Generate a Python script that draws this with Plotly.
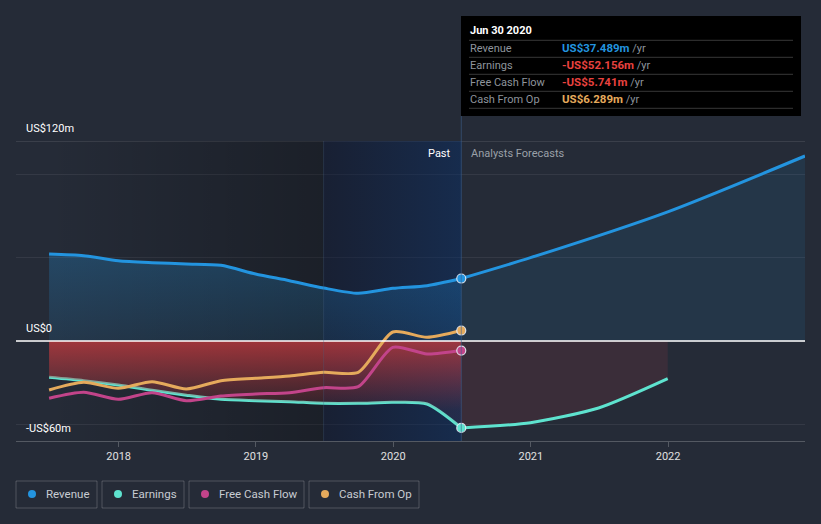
import plotly.graph_objects as go

# ---------------- data ----------------
past_dates = ["2017-06-30", "2017-09-30", "2017-12-31", "2018-03-31", "2018-06-30",
              "2018-09-30", "2018-12-31", "2019-03-31", "2019-06-30", "2019-09-30",
              "2019-12-31", "2020-03-31", "2020-06-30"]
revenue_past = [52.2, 51.2, 48.2, 47.0, 46.2, 45.4, 40.2, 36.2, 31.8, 28.6, 31.6, 33.2, 37.489]
earnings_past = [-21.8, -23.8, -26.4, -29.6, -32.5, -35.0, -35.8, -36.4, -37.4, -37.4, -36.8, -37.8, -52.156]
fcf_past = [-34.4, -30.8, -35.0, -31.0, -35.8, -33.0, -31.8, -31.0, -28.0, -27.4, -3.8, -7.8, -5.741]
cfo_past = [-29.4, -24.8, -28.4, -24.4, -28.8, -23.8, -22.4, -21.0, -18.8, -18.8, 5.4, 2.2, 6.289]

rev_fc_dates = ["2020-06-30", "2020-12-31", "2021-12-31", "2022-12-31"]
revenue_fc = [37.489, 50.0, 77.5, 111.0]
earn_fc_dates = ["2020-06-30", "2020-12-31", "2021-06-30", "2021-12-31"]
earnings_fc = [-52.156, -49.0, -40.2, -22.6]

y_tick_labels = {120: "US$120m", 0: "US$0", -60: "-US$60m"}
legend_names = ["Revenue", "Earnings", "Free Cash Flow", "Cash From Op"]
tooltip_date = "Jun 30 2020"

# ---------------- style ----------------
BG = "rgb(37,43,55)"
C_REV = "#2394df"
C_EARN = "#5ee3cf"
C_FCF = "#c2448a"
C_CFO = "#e5aa5c"
FONT = "Roboto"

W, H = 821, 524
L, R, T, B = 16, 16, 141, 83
PW, PH = W - L - R, H - T - B


def px(x):
    return (x - L) / PW


def py(y):
    return (H - B - y) / PH


fig = go.Figure()

# background regions
past_start = past_dates[0]
hl_start = past_dates[8]
last = past_dates[-1]
fig.add_trace(go.Scatter(x=[past_start, hl_start, hl_start, past_start],
                         y=[-60, -60, 120, 120], fill="toself", mode="none",
                         fillgradient=dict(type="horizontal",
                                           colorscale=[[0, "rgba(0,0,0,0)"], [1, "rgba(0,0,0,0.27)"]]),
                         hoverinfo="skip", showlegend=False))
fig.add_trace(go.Scatter(x=[hl_start, last, last, hl_start],
                         y=[-60, -60, 120, 120], fill="toself", mode="none",
                         fillgradient=dict(type="horizontal",
                                           colorscale=[[0, "rgba(5,15,45,0.4)"], [1, "rgba(5,45,105,0.45)"]]),
                         hoverinfo="skip", showlegend=False))

SM = 0.7
# revenue fills
fig.add_trace(go.Scatter(x=past_dates, y=revenue_past, mode="none", fill="tozeroy",
                         line=dict(shape="spline", smoothing=SM),
                         fillgradient=dict(type="vertical", start=0, stop=55,
                                           colorscale=[[0, "rgba(35,148,223,0.12)"], [1, "rgba(35,148,223,0.28)"]]),
                         hoverinfo="skip", showlegend=False))
fig.add_trace(go.Scatter(x=rev_fc_dates, y=revenue_fc, mode="none", fill="tozeroy",
                         line=dict(shape="spline", smoothing=SM),
                         fillcolor="rgba(35,148,223,0.11)", hoverinfo="skip", showlegend=False))
# earnings forecast fill
fig.add_trace(go.Scatter(x=earn_fc_dates, y=earnings_fc, mode="none", fill="tozeroy",
                         line=dict(shape="spline", smoothing=SM),
                         fillcolor="rgba(180,60,75,0.15)", hoverinfo="skip", showlegend=False))

# revenue lines
fig.add_trace(go.Scatter(x=past_dates, y=revenue_past, mode="lines",
                         line=dict(color=C_REV, width=3, shape="spline", smoothing=SM),
                         hoverinfo="skip", showlegend=False))
fig.add_trace(go.Scatter(x=rev_fc_dates, y=revenue_fc, mode="lines",
                         line=dict(color=C_REV, width=3, shape="spline", smoothing=SM),
                         hoverinfo="skip", showlegend=False))
# earnings lines
fig.add_trace(go.Scatter(x=past_dates, y=earnings_past, mode="lines",
                         line=dict(color=C_EARN, width=3, shape="spline", smoothing=SM),
                         hoverinfo="skip", showlegend=False))
fig.add_trace(go.Scatter(x=earn_fc_dates, y=earnings_fc, mode="lines",
                         line=dict(color=C_EARN, width=3, shape="spline", smoothing=SM),
                         hoverinfo="skip", showlegend=False))
# earnings past fill (over line)
fig.add_trace(go.Scatter(x=past_dates, y=earnings_past, mode="none", fill="tozeroy",
                         line=dict(shape="spline", smoothing=SM),
                         fillgradient=dict(type="vertical", start=-42, stop=0,
                                           colorscale=[[0, "rgba(190,55,60,0.08)"], [1, "rgba(195,58,62,0.78)"]]),
                         hoverinfo="skip", showlegend=False))
# FCF and CFO
fig.add_trace(go.Scatter(x=past_dates, y=fcf_past, mode="lines",
                         line=dict(color=C_FCF, width=3, shape="spline", smoothing=SM),
                         hoverinfo="skip", showlegend=False))
fig.add_trace(go.Scatter(x=past_dates, y=cfo_past, mode="lines",
                         line=dict(color=C_CFO, width=3, shape="spline", smoothing=SM),
                         hoverinfo="skip", showlegend=False))

# end markers
for series, col in [(revenue_past, C_REV), (earnings_past, C_EARN), (fcf_past, C_FCF), (cfo_past, C_CFO)]:
    fig.add_trace(go.Scatter(x=[past_dates[-1]], y=[series[-1]], mode="markers",
                             marker=dict(color=col, size=9, line=dict(color="rgba(230,235,245,0.9)", width=1.2)),
                             hoverinfo="skip", showlegend=False))

shapes = []
# top line and zero line
shapes.append(dict(type="line", xref="paper", yref="y", x0=0, x1=1, y0=120, y1=120,
                   line=dict(color="rgba(255,255,255,0.2)", width=1), layer="below"))
shapes.append(dict(type="line", xref="paper", yref="y", x0=0, x1=1, y0=0, y1=0,
                   line=dict(color="#ffffff", width=1.3)))
# vertical lines
shapes.append(dict(type="line", xref="x", yref="paper", x0=hl_start, x1=hl_start, y0=0, y1=1,
                   line=dict(color="rgba(70,95,130,0.3)", width=1)))
shapes.append(dict(type="line", xref="x", yref="paper", x0=last, x1=last, y0=0, y1=py(116),
                   line=dict(color="rgba(60,95,140,0.6)", width=1)))
# tooltip box
shapes.append(dict(type="rect", xref="paper", yref="paper", x0=px(461), x1=px(801), y0=py(116), y1=py(16),
                   fillcolor="#000000", line=dict(width=0)))
for yy in [40.3, 57.3, 74.3, 91.3, 108.3]:
    shapes.append(dict(type="line", xref="paper", yref="paper", x0=px(469), x1=px(793), y0=py(yy), y1=py(yy),
                       line=dict(color="rgba(255,255,255,0.22)", width=1)))

annotations = []
# y labels
for val, ypix in [(120, 128), (0, 328), (-60, 428)]:
    annotations.append(dict(text=y_tick_labels[val], xref="paper", yref="paper", x=px(24), y=py(ypix),
                            xanchor="left", yanchor="middle", showarrow=False,
                            font=dict(family=FONT, size=11, color="#ffffff")))
annotations.append(dict(text="Past", xref="paper", yref="paper", x=px(453), y=py(153), xanchor="right",
                        yanchor="middle", showarrow=False, font=dict(family=FONT, size=11, color="#ffffff")))
annotations.append(dict(text="Analysts Forecasts", xref="paper", yref="paper", x=px(469), y=py(153),
                        xanchor="left", yanchor="middle", showarrow=False,
                        font=dict(family=FONT, size=11, color="#9aa0a8")))
# tooltip text
annotations.append(dict(text="<b>" + tooltip_date + "</b>", xref="paper", yref="paper", x=px(468), y=py(31),
                        xanchor="left", yanchor="middle", showarrow=False,
                        font=dict(family=FONT, size=11, color="#ffffff")))
rows = [("Revenue", "US$%.3fm" % revenue_past[-1], C_REV),
        ("Earnings", "-US$%.3fm" % abs(earnings_past[-1]), "#e8423f"),
        ("Free Cash Flow", "-US$%.3fm" % abs(fcf_past[-1]), "#e8423f"),
        ("Cash From Op", "US$%.3fm" % cfo_past[-1], C_CFO)]
for i, (lab, val, col) in enumerate(rows):
    yy = 48.3 + 17 * i
    annotations.append(dict(text=lab, xref="paper", yref="paper", x=px(468), y=py(yy), xanchor="left",
                            yanchor="middle", showarrow=False, font=dict(family=FONT, size=11, color="#8e949c")))
    annotations.append(dict(text="<b><span style='color:%s;font-size:11.5px'>%s</span></b> /yr" % (col, val),
                            xref="paper", yref="paper", x=px(560), y=py(yy), xanchor="left", yanchor="middle",
                            showarrow=False, font=dict(family=FONT, size=11, color="#8e949c")))

# legend
leg_boxes = [(16, 97), (102, 184), (189, 304), (309, 419)]
leg_cols = [C_REV, C_EARN, C_FCF, C_CFO]
for (x0, x1), name, col in zip(leg_boxes, legend_names, leg_cols):
    shapes.append(dict(type="rect", xref="paper", yref="paper", x0=px(x0), x1=px(x1), y0=py(508), y1=py(481),
                       line=dict(color="rgba(255,255,255,0.2)", width=1), fillcolor="rgba(0,0,0,0)"))
    shapes.append(dict(type="circle", xref="paper", yref="paper", x0=px(x0 + 12), x1=px(x0 + 20),
                       y0=py(498), y1=py(490), fillcolor=col, line=dict(width=0)))
    annotations.append(dict(text=name, xref="paper", yref="paper", x=px(x0 + 28), y=py(494.5), xanchor="left",
                            yanchor="middle", showarrow=False, font=dict(family=FONT, size=11.5, color="#c8ccd2")))

fig.update_layout(
    width=W, height=H, margin=dict(l=L, r=R, t=T, b=B),
    paper_bgcolor=BG, plot_bgcolor=BG,
    shapes=shapes, annotations=annotations, showlegend=False,
    font=dict(family=FONT, color="#ffffff"),
    xaxis=dict(type="date", range=["2017-04-03", "2022-12-31"], tickvals=["2018-01-01", "2019-01-01",
               "2020-01-01", "2021-01-01", "2022-01-01"], ticktext=["2018", "2019", "2020", "2021", "2022"],
               showgrid=False, zeroline=False, showline=True, linecolor="rgba(255,255,255,0.22)", linewidth=1,
               ticks="outside", ticklen=5, tickcolor="rgba(255,255,255,0.22)",
               tickfont=dict(family=FONT, size=11, color="#e0e0e0")),
    yaxis=dict(range=[-60, 120], tickvals=[-50, 0, 50, 100], showticklabels=False, showgrid=True,
               gridcolor="rgba(255,255,255,0.07)", zeroline=False, fixedrange=True),
)

fig.write_html("out.html", config={"displayModeBar": False},
               post_script="document.body.style.margin='0';document.body.style.background='%s';" % BG)
